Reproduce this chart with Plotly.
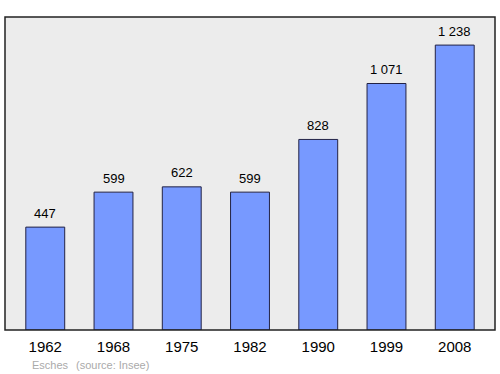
import plotly.graph_objects as go

years = ["1962", "1968", "1975", "1982", "1990", "1999", "2008"]
population = [447, 599, 622, 599, 828, 1071, 1238]
labels = [f"{v:,}".replace(",", " ") for v in population]
commune = "Esches"
source = "(source: Insee)"

fig = go.Figure()
fig.add_trace(go.Bar(
    x=years, y=population, width=0.57,
    marker=dict(color="#7799ff", line=dict(color="#222244", width=1)),
    hoverinfo="skip",
))
for i, (v, t) in enumerate(zip(population, labels)):
    fig.add_annotation(x=i, y=v, text=t, showarrow=False, yshift=14,
                       font=dict(family="Liberation Sans", size=13, color="#000000"))

fig.add_annotation(xref="paper", yref="paper", x=(30-5)/490, y=-(365-330)/313,
                   xanchor="left", yanchor="middle", showarrow=False,
                   text=commune, font=dict(family="Liberation Sans", size=11, color="#aaaaaa"))
fig.add_annotation(xref="paper", yref="paper", x=(74-5)/490, y=-(365-330)/313,
                   xanchor="left", yanchor="middle", showarrow=False,
                   text=source, font=dict(family="Liberation Sans", size=11, color="#aaaaaa"))

fig.add_shape(type="rect", xref="paper", yref="paper", x0=0, y0=0, x1=1, y1=1,
              line=dict(color="#222222", width=1.5), layer="above")

fig.update_layout(
    width=500, height=374,
    margin=dict(l=5, r=5, t=17, b=44),
    paper_bgcolor="#ffffff", plot_bgcolor="#ececec",
    showlegend=False, bargap=0.43,
    xaxis=dict(type="category", range=[-0.59, 6.59], showgrid=False, zeroline=False,
               ticks="", ticklabelstandoff=6,
               tickfont=dict(family="Liberation Sans", size=15, color="#000000")),
    yaxis=dict(range=[0, 1360], showgrid=False, zeroline=False, showticklabels=False,
               ticks=""),
)
fig.write_html("out.html")
